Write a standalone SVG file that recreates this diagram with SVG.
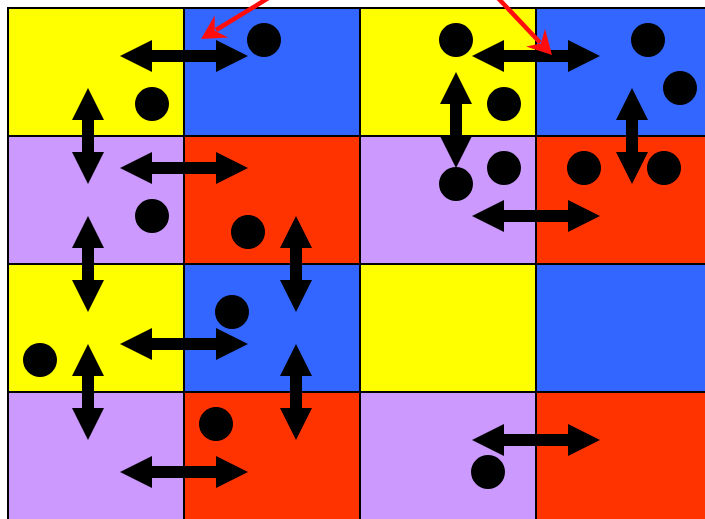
<svg xmlns="http://www.w3.org/2000/svg" xmlns:xlink="http://www.w3.org/1999/xlink" width="705" height="519" viewBox="0 0 705 519">
<style>
.y{fill:#ffff00}.b{fill:#3366ff}.p{fill:#cc99ff}.r{fill:#ff3300}
.cell{stroke:#000;stroke-width:2}
.dot{fill:#000}
.ar{fill:#000}
.red{stroke:#ff0d0d;stroke-width:4.5;fill:none}
.redhead{fill:#ff0d0d}
</style>
<defs>
<path id="ha" class="ar" d="M-64,0 L-32,-16 L-32,-6 L32,-6 L32,-16 L64,0 L32,16 L32,6 L-32,6 L-32,16 Z"/>
<path id="va" class="ar" d="M0,-48 L16,-16 L6,-16 L6,16 L16,16 L0,48 L-16,16 L-6,16 L-6,-16 L-16,-16 Z"/>
</defs>
<rect width="705" height="519" fill="#fff"/>
<g id="grid">
<rect class="cell y" x="8" y="8" width="176" height="128"/>
<rect class="cell b" x="184" y="8" width="176" height="128"/>
<rect class="cell y" x="360" y="8" width="176" height="128"/>
<rect class="cell b" x="536" y="8" width="176" height="128"/>
<rect class="cell p" x="8" y="136" width="176" height="128"/>
<rect class="cell r" x="184" y="136" width="176" height="128"/>
<rect class="cell p" x="360" y="136" width="176" height="128"/>
<rect class="cell r" x="536" y="136" width="176" height="128"/>
<rect class="cell y" x="8" y="264" width="176" height="128"/>
<rect class="cell b" x="184" y="264" width="176" height="128"/>
<rect class="cell y" x="360" y="264" width="176" height="128"/>
<rect class="cell b" x="536" y="264" width="176" height="128"/>
<rect class="cell p" x="8" y="392" width="176" height="128"/>
<rect class="cell r" x="184" y="392" width="176" height="128"/>
<rect class="cell p" x="360" y="392" width="176" height="128"/>
<rect class="cell r" x="536" y="392" width="176" height="128"/>
</g>
<g id="connectors">
<use xlink:href="#ha" href="#ha" x="184" y="56"/>
<use xlink:href="#ha" href="#ha" x="184" y="168"/>
<use xlink:href="#ha" href="#ha" x="184" y="344"/>
<use xlink:href="#ha" href="#ha" x="184" y="472"/>
<use xlink:href="#ha" href="#ha" x="536" y="56"/>
<use xlink:href="#ha" href="#ha" x="536" y="216"/>
<use xlink:href="#ha" href="#ha" x="536" y="440"/>
<use xlink:href="#va" href="#va" x="88" y="136"/>
<use xlink:href="#va" href="#va" x="88" y="264"/>
<use xlink:href="#va" href="#va" x="88" y="392"/>
<use xlink:href="#va" href="#va" x="296" y="264"/>
<use xlink:href="#va" href="#va" x="296" y="392"/>
<use xlink:href="#va" href="#va" x="456" y="120"/>
<use xlink:href="#va" href="#va" x="632" y="136"/>
</g>
<g id="dots">
<circle class="dot" cx="264" cy="40" r="17"/>
<circle class="dot" cx="152" cy="104" r="17"/>
<circle class="dot" cx="456" cy="40" r="17"/>
<circle class="dot" cx="504" cy="104" r="17"/>
<circle class="dot" cx="648" cy="40" r="17"/>
<circle class="dot" cx="680" cy="88" r="17"/>
<circle class="dot" cx="152" cy="216" r="17"/>
<circle class="dot" cx="248" cy="232" r="17"/>
<circle class="dot" cx="456" cy="184" r="17"/>
<circle class="dot" cx="504" cy="168" r="17"/>
<circle class="dot" cx="584" cy="168" r="17"/>
<circle class="dot" cx="664" cy="168" r="17"/>
<circle class="dot" cx="232" cy="312" r="17"/>
<circle class="dot" cx="40" cy="360" r="17"/>
<circle class="dot" cx="216" cy="424" r="17"/>
<circle class="dot" cx="488" cy="472" r="17"/>
</g>
<g id="pointers">
<path class="red" d="M270,-3 L216,30"/>
<path class="redhead" d="M201,39 L214.7,15.4 L214.7,30.7 L228.3,37.6 Z"/>
<path class="red" d="M497,-3 L540,42.5"/>
<path class="redhead" d="M552,55 L545,28.7 L541,43.4 L526,46.5 Z"/>
</g>
</svg>
